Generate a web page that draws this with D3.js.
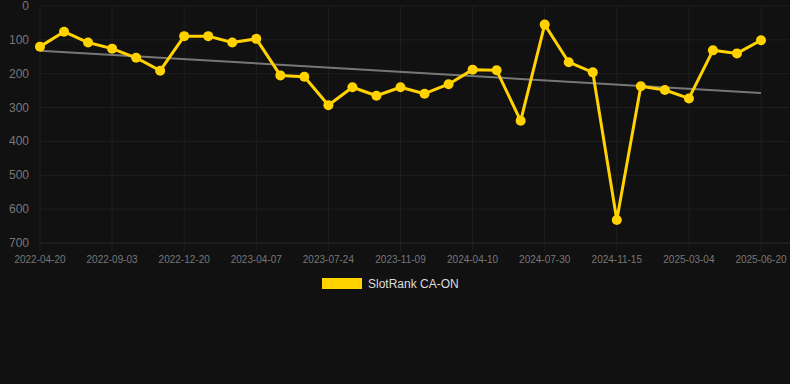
<!DOCTYPE html>
<html><head><meta charset="utf-8">
<script src="https://cdn.jsdelivr.net/npm/d3@7"></script>
<style>
html,body{margin:0;padding:0;background:#111111;}
svg{display:block;font-family:"Liberation Sans",Arial,sans-serif;}
</style></head>
<body><svg id="c" width="790" height="384"></svg>
<script>
const categories = ["2022-04-20","2022-06-04","2022-07-19","2022-09-03","2022-10-09","2022-11-14","2022-12-20","2023-01-25","2023-03-02","2023-04-07","2023-05-13","2023-06-18","2023-07-24","2023-08-29","2023-10-04","2023-11-09","2023-12-30","2024-02-19","2024-04-10","2024-05-17","2024-06-23","2024-07-30","2024-09-04","2024-10-10","2024-11-15","2024-12-21","2025-01-26","2025-03-04","2025-04-09","2025-05-15","2025-06-20"];
const values = [120,76,108,126,153,191,89,89,108,97,205,209,293,240,265,240,259,231,188,190,339,55,166,196,632,237,248,273,131,140,101];
const trendValues = [132,257];
const yTicks = [0,100,200,300,400,500,600,700];
const seriesName = "SlotRank CA-ON";

const svg = d3.select("#c");
const m = {l:40,r:29,t:6,b:141};
const W = 790, H = 384;
const x = d3.scalePoint().domain(categories).range([m.l, W-m.r]);
const y = d3.scaleLinear().domain([0,700]).range([m.t, H-m.b]);

// grid
const g = svg.append("g");
g.selectAll("line.h").data(yTicks).join("line")
  .attr("x1", m.l).attr("x2", W-m.r+29).attr("y1", d=>y(d)).attr("y2", d=>y(d))
  .attr("stroke", d=> d===700 ? "#2a2a2a" : "#1f1f1f").attr("stroke-width",1);
const xTickCats = categories.filter((d,i)=>i%3===0);
g.selectAll("line.v").data(xTickCats).join("line")
  .attr("x1", d=>x(d)).attr("x2", d=>x(d)).attr("y1", m.t).attr("y2", y(700)+8)
  .attr("stroke","#1f1f1f");

// y labels
svg.append("g").selectAll("text").data(yTicks).join("text")
  .attr("x", 29).attr("y", d=>y(d)+4).attr("text-anchor","end")
  .attr("fill","#777").attr("font-size",12).text(d=>d);
// x labels
svg.append("g").selectAll("text").data(xTickCats).join("text")
  .attr("x", d=>x(d)).attr("y", 263).attr("text-anchor","middle")
  .attr("fill","#777").attr("font-size",10).text(d=>d);

// trend
svg.append("line")
  .attr("x1", x(categories[0])).attr("y1", y(trendValues[0]))
  .attr("x2", x(categories[categories.length-1])).attr("y2", y(trendValues[1]))
  .attr("stroke","#777").attr("stroke-width",2);

// series
const line = d3.line().x((d,i)=>x(categories[i])).y(d=>y(d));
svg.append("path").datum(values).attr("d", line)
  .attr("fill","none").attr("stroke","#FFD200").attr("stroke-width",3).attr("stroke-linejoin","round");
svg.append("g").selectAll("circle").data(values).join("circle")
  .attr("cx",(d,i)=>x(categories[i])).attr("cy", d=>y(d)).attr("r",5).attr("fill","#FFD200");

// legend
svg.append("rect").attr("x",322).attr("y",278).attr("width",40).attr("height",11).attr("fill","#FFD200");
svg.append("text").attr("x",368).attr("y",288).attr("fill","#ddd").attr("font-size",12).text(seriesName);
</script></body></html>
